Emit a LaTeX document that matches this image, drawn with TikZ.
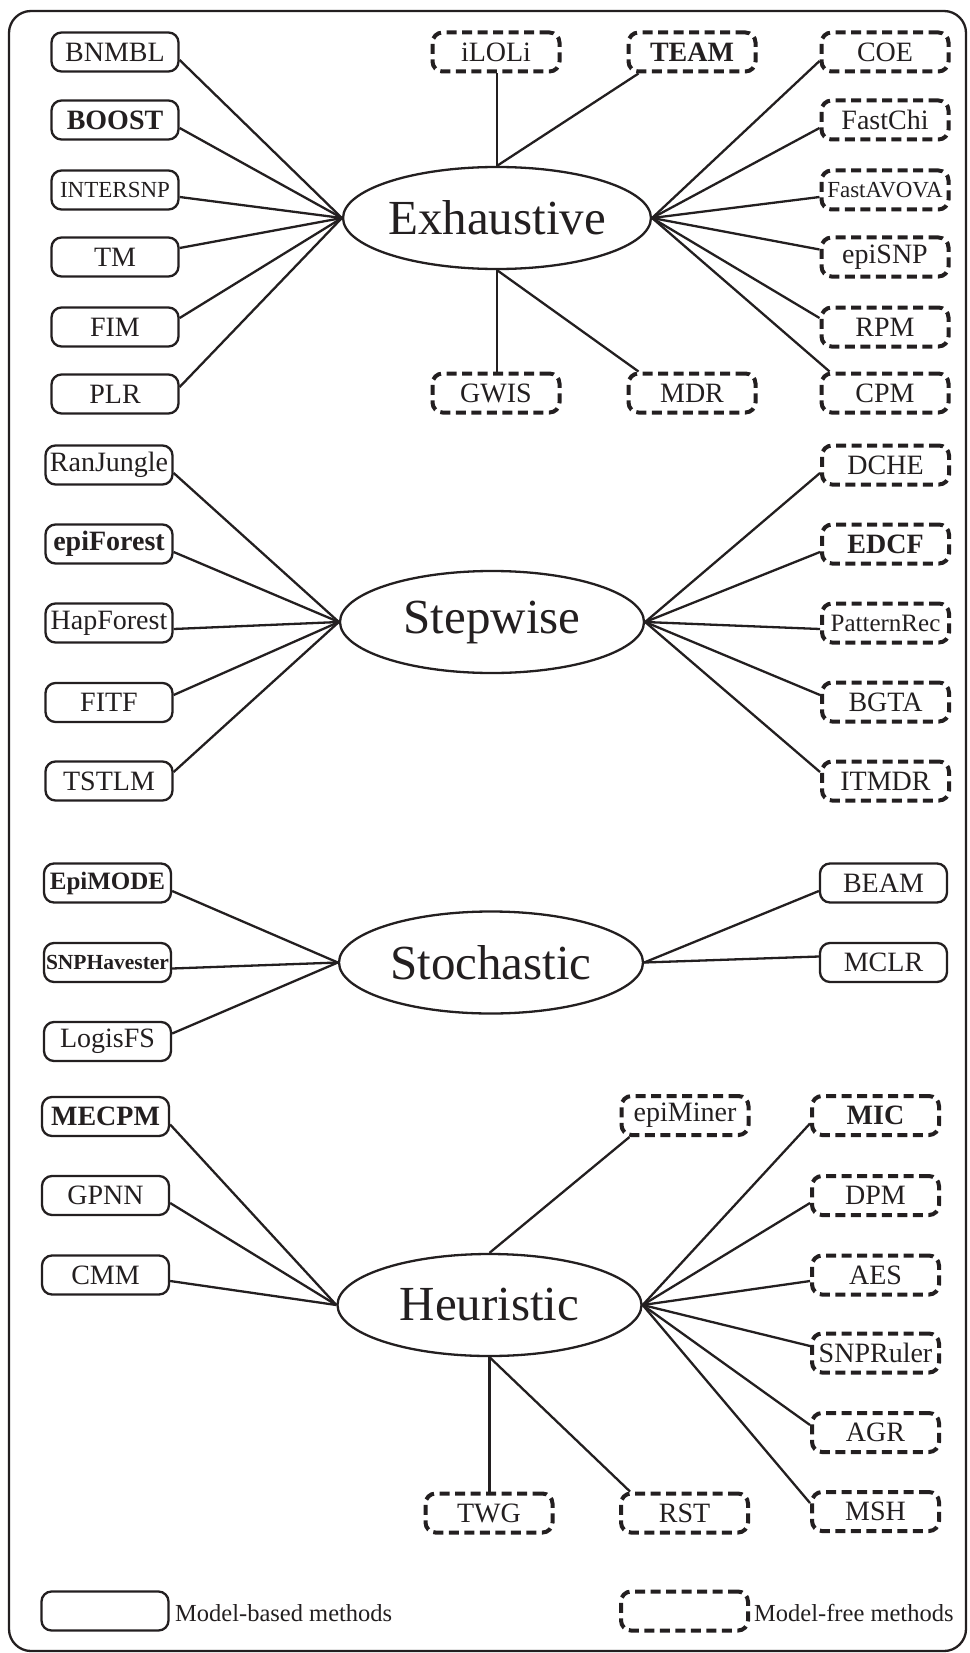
\documentclass[tikz,border=0pt]{standalone}
\usepackage{fontspec}
\setmainfont{Liberation Serif}
\usetikzlibrary{shapes.geometric}
\definecolor{ink}{RGB}{35,31,32}
\begin{document}
\begin{tikzpicture}[x=1pt,y=-1pt,
  every node/.style={text=ink},
  mb/.style={draw=ink, line width=2.3pt, rounded corners=10pt, minimum width=127pt, minimum height=39pt, inner sep=0pt, font=\fontsize{28}{30}\selectfont},
  mf/.style={mb, line width=4pt, dash pattern=on 10pt off 5.5pt},
  cat/.style={draw=ink, line width=2.3pt, ellipse, minimum width=304pt, minimum height=102pt, inner sep=0pt, font=\fontsize{49}{52}\selectfont},
  conn/.style={draw=ink, line width=2.3pt},
  bld/.style={font=\fontsize{28}{30}\selectfont\bfseries},
  leg/.style={anchor=west, inner sep=0pt, font=\fontsize{24.5}{26}\selectfont},
  ]
\useasboundingbox (0,0) rectangle (969,1653);
\draw[ink, line width=2.3pt, rounded corners=22pt] (9,11) rectangle (966,1651);

% ---------------- Exhaustive ----------------
\node[cat] (E) at (497,218) {Exhaustive};
\node[mb] (BNMBL) at (115,52) {BNMBL};
\node[mb,bld] (BOOST) at (115,120) {BOOST};
\node[mb,font=\fontsize{23}{25}\selectfont] (INTERSNP) at (115,190) {INTERSNP};
\node[mb] (TM) at (115,257) {TM};
\node[mb] (FIM) at (115,327) {FIM};
\node[mb] (PLR) at (115,394) {PLR};
\node[mf] (iLOLi) at (496,52) {iLOLi};
\node[mf,bld] (TEAM) at (692,52) {TEAM};
\node[mf] (COE) at (885,52) {COE};
\node[mf] (FastChi) at (885,120) {FastChi};
\node[mf,font=\fontsize{23}{25}\selectfont] (FastAVOVA) at (885,190) {FastAVOVA};
\node[mf] (epiSNP) at (885,257) {epiSNP};
\node[mf] (RPM) at (885,327) {RPM};
\node[mf] (CPM) at (885,393) {CPM};
\node[mf] (GWIS) at (496,393) {GWIS};
\node[mf] (MDR) at (692,393) {MDR};

\draw[conn] (E.west) -- ([yshift=-8pt]BNMBL.east);
\draw[conn] (E.west) -- ([yshift=-8pt]BOOST.east);
\draw[conn] (E.west) -- ([yshift=-7pt]INTERSNP.east);
\draw[conn] (E.west) -- ([yshift=9pt]TM.east);
\draw[conn] (E.west) -- ([yshift=9pt]FIM.east);
\draw[conn] (E.west) -- ([yshift=7pt]PLR.east);
\draw[conn] (E.north) -- (E.north |- iLOLi.south);
\draw[conn] (E.north) -- ([xshift=12pt]TEAM.south west);
\draw[conn] (E.east) -- ([yshift=-9pt]COE.west);
\draw[conn] (E.east) -- ([yshift=-8pt]FastChi.west);
\draw[conn] (E.east) -- ([yshift=-7pt]FastAVOVA.west);
\draw[conn] (E.east) -- ([yshift=7.5pt]epiSNP.west);
\draw[conn] (E.east) -- ([yshift=9pt]RPM.west);
\draw[conn] (E.east) -- ([xshift=10pt]CPM.north west);
\draw[conn] (E.south) -- (E.south |- GWIS.north);
\draw[conn] (E.south) -- ([xshift=12pt]MDR.north west);

% ---------------- Stepwise ----------------
\node[cat] (S) at (492,622) {Stepwise};
\node[mb] (RanJungle) at (109,465) {RanJungle};
\node[mb,bld] (epiForest) at (109,544) {epiForest};
\node[mb] (HapForest) at (109,623) {HapForest};
\node[mb] (FITF) at (109,702.5) {FITF};
\node[mb] (TSTLM) at (109,781) {TSTLM};
\node[mf] (DCHE) at (885.5,465) {DCHE};
\node[mf,bld] (EDCF) at (885.5,544) {EDCF};
\node[mf,font=\fontsize{25}{27}\selectfont] (PatternRec) at (885.5,623) {PatternRec};
\node[mf] (BGTA) at (885.5,702) {BGTA};
\node[mf] (ITMDR) at (885.5,781) {ITMDR};

\draw[conn] (S.west) -- ([yshift=-8pt]RanJungle.east);
\draw[conn] (S.west) -- ([yshift=-8pt]epiForest.east);
\draw[conn] (S.west) -- ([yshift=-6pt]HapForest.east);
\draw[conn] (S.west) -- ([yshift=7.5pt]FITF.east);
\draw[conn] (S.west) -- ([yshift=9pt]TSTLM.east);
\draw[conn] (S.east) -- ([yshift=-8pt]DCHE.west);
\draw[conn] (S.east) -- ([yshift=-8pt]EDCF.west);
\draw[conn] (S.east) -- ([yshift=-6pt]PatternRec.west);
\draw[conn] (S.east) -- ([yshift=7pt]BGTA.west);
\draw[conn] (S.east) -- ([yshift=9pt]ITMDR.west);

% ---------------- Stochastic ----------------
\node[cat] (T) at (491,962.5) {Stochastic};
\node[mb,font=\fontsize{25}{27}\selectfont\bfseries] (EpiMODE) at (107.5,883) {EpiMODE};
\node[mb,font=\fontsize{21.5}{23}\selectfont\bfseries] (SNPHavester) at (107.5,962.5) {SNPHavester};
\node[mb] (LogisFS) at (107.5,1041.5) {LogisFS};
\node[mb] (BEAM) at (883.5,883) {BEAM};
\node[mb] (MCLR) at (883.5,962.5) {MCLR};

\draw[conn] (T.west) -- ([yshift=-8pt]EpiMODE.east);
\draw[conn] (T.west) -- ([yshift=-6pt]SNPHavester.east);
\draw[conn] (T.west) -- ([yshift=8pt]LogisFS.east);
\draw[conn] (T.east) -- ([yshift=-8pt]BEAM.west);
\draw[conn] (T.east) -- ([yshift=6pt]MCLR.west);

% ---------------- Heuristic ----------------
\node[cat] (H) at (489.5,1305) {Heuristic};
\node[mb,bld] (MECPM) at (105.5,1116.5) {MECPM};
\node[mb] (GPNN) at (105.5,1195.5) {GPNN};
\node[mb] (CMM) at (105.5,1275) {CMM};
\node[mf] (epiMiner) at (685,1115.5) {epiMiner};
\node[mf,bld] (MIC) at (875.5,1115.5) {MIC};
\node[mf] (DPM) at (875.5,1195.5) {DPM};
\node[mf] (AES) at (875.5,1275) {AES};
\node[mf] (SNPRuler) at (875.5,1353) {SNPRuler};
\node[mf] (AGR) at (875.5,1432.5) {AGR};
\node[mf] (MSH) at (875.5,1511.5) {MSH};
\node[mf] (TWG) at (489,1513) {TWG};
\node[mf] (RST) at (684.5,1513) {RST};

\draw[conn] (H.west) -- ([yshift=-8pt]MECPM.east);
\draw[conn] (H.west) -- ([yshift=-7.5pt]GPNN.east);
\draw[conn] (H.west) -- ([yshift=-6pt]CMM.east);
\draw[conn] (H.north) -- ([xshift=10pt]epiMiner.south west);
\draw[conn] (H.east) -- ([yshift=-8pt]MIC.west);
\draw[conn] (H.east) -- ([yshift=-7.5pt]DPM.west);
\draw[conn] (H.east) -- ([yshift=-6pt]AES.west);
\draw[conn] (H.east) -- ([yshift=7pt]SNPRuler.west);
\draw[conn] (H.east) -- ([yshift=7.5pt]AGR.west);
\draw[conn] (H.east) -- ([yshift=8.5pt]MSH.west);
\draw[conn] (H.south) -- (H.south |- TWG.north);
\draw[conn] (H.south) -- ([xshift=11pt]RST.north west);

% ---------------- Legend ----------------
\node[mb] (lmb) at (105,1611) {};
\node[leg] (lmbt) at (175,1613) {Model-based methods};
\node[mf] (lmf) at (684.5,1611) {};
\node[leg] (lmft) at (754,1613) {Model-free methods};
\end{tikzpicture}
\end{document}
